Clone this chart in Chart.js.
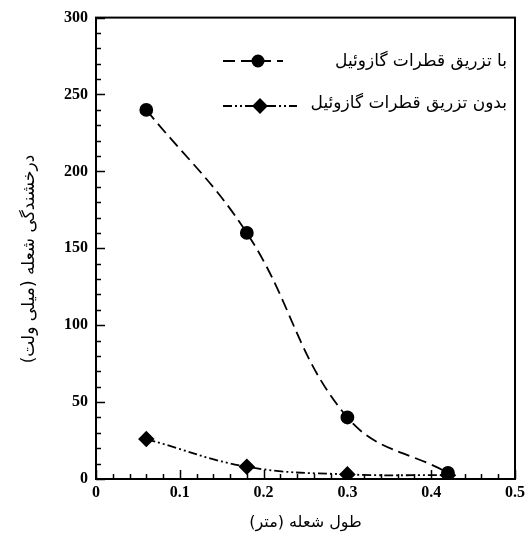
<!DOCTYPE html>
<html>
<head>
<meta charset="utf-8">
<script src="https://cdn.jsdelivr.net/npm/chart.js@4"></script>
<style>
  html, body { margin: 0; padding: 0; background: #fff; }
  #wrap { width: 530px; height: 541px; }
</style>
</head>
<body>
<div id="wrap"><canvas id="c"></canvas></div>
<script>
// Flame length (m) and flame luminosity (mV)
const flameLength = [0.06, 0.18, 0.30, 0.42];
const withInjection = [240, 160, 40, 4];
const withoutInjection = [26, 8, 3, 2.5];
const seriesLabels = ['با تزریق قطرات گازوئیل', 'بدون تزریق قطرات گازوئیل'];
const xTitle = 'طول شعله (متر)';
const yTitle = 'درخشندگی شعله (میلی ولت)';
const xTicks = [0, 0.1, 0.2, 0.3, 0.4, 0.5];
const yTicks = [0, 50, 100, 150, 200, 250, 300];

const tickFont = { family: "'Liberation Serif', 'Times New Roman', serif", size: 16, weight: 'bold' };
const arabicFont = "'DejaVu Sans', sans-serif";

const toPoints = ys => flameLength.map((x, i) => ({ x: x, y: ys[i] }));

// Box frame, inward ticks, in-plot legend and axis titles
const framePlugin = {
  id: 'frame',
  afterDraw(chart) {
    const { ctx, chartArea: a, scales: { x, y } } = chart;
    ctx.save();
    ctx.strokeStyle = '#000';
    // minor/major ticks on the left axis
    ctx.lineWidth = 1.5;
    for (let v = 0; v <= 300; v += 10) {
      const py = Math.round(y.getPixelForValue(v)) + 0.5;
      const len = v % 50 === 0 ? 9 : 5;
      ctx.beginPath(); ctx.moveTo(a.left, py); ctx.lineTo(a.left + len, py); ctx.stroke();
    }
    // minor/major ticks on the bottom axis
    for (let k = 0; k <= 25; k++) {
      const v = k * 0.02;
      const px = Math.round(x.getPixelForValue(v)) + 0.5;
      const len = k % 5 === 0 ? 9 : 5;
      ctx.beginPath(); ctx.moveTo(px, a.bottom); ctx.lineTo(px, a.bottom - len); ctx.stroke();
    }
    // frame
    ctx.lineWidth = 2;
    ctx.strokeRect(a.left, a.top, a.right - a.left, a.bottom - a.top);

    // legend inside the plot
    const rows = [
      { ds: 0, y: 61, ty: 62, x0: 223, x1: 283, px: 258 },
      { ds: 1, y: 106, ty: 104, x0: 223, x1: 297, px: 260 }
    ];
    rows.forEach(r => {
      const ds = chart.data.datasets[r.ds];
      ctx.save();
      ctx.lineWidth = ds.borderWidth;
      ctx.setLineDash(ds.borderDash);
      ctx.beginPath(); ctx.moveTo(r.x0, r.y); ctx.lineTo(r.x1, r.y); ctx.stroke();
      ctx.restore();
      ctx.fillStyle = '#000';
      Chart.helpers.drawPoint(ctx, {
        pointStyle: ds.pointStyle, radius: ds.pointRadius - 0.5, borderWidth: 1, rotation: 0
      }, r.px, r.y);
      ctx.fillStyle = '#000';
      ctx.font = '17px ' + arabicFont;
      ctx.direction = 'rtl';
      ctx.textAlign = 'right';
      ctx.textBaseline = 'middle';
      ctx.fillText(seriesLabels[r.ds], 507, r.ty);
    });

    // axis titles
    ctx.fillStyle = '#000';
    ctx.direction = 'rtl';
    ctx.textAlign = 'center';
    ctx.textBaseline = 'middle';
    ctx.font = '16px ' + arabicFont;
    ctx.fillText(xTitle, (a.left + a.right) / 2, 523);
    ctx.save();
    ctx.translate(30, 259);
    ctx.rotate(-Math.PI / 2);
    ctx.font = '17px ' + arabicFont;
    ctx.fillText(yTitle, 0, 0);
    ctx.restore();
    ctx.restore();
  }
};

new Chart(document.getElementById('c'), {
  type: 'line',
  data: {
    datasets: [
      {
        label: seriesLabels[0],
        data: toPoints(withInjection),
        borderColor: '#000',
        backgroundColor: '#000',
        borderWidth: 1.8,
        borderDash: [12, 6],
        pointStyle: 'circle',
        pointRadius: 6,
        pointBackgroundColor: '#000',
        pointBorderColor: '#000',
        tension: 0.4,
        fill: false
      },
      {
        label: seriesLabels[1],
        data: toPoints(withoutInjection),
        borderColor: '#000',
        backgroundColor: '#000',
        borderWidth: 1.8,
        borderDash: [9, 3, 2, 3, 2, 3],
        pointStyle: 'rectRot',
        pointRadius: 7,
        pointBackgroundColor: '#000',
        pointBorderColor: '#000',
        tension: 0.4,
        fill: false
      }
    ]
  },
  options: {
    responsive: true,
    maintainAspectRatio: false,
    animation: false,
    devicePixelRatio: 1,
    layout: { padding: { left: 0, right: 15, top: 17, bottom: 0 } },
    plugins: { legend: { display: false }, tooltip: { enabled: false } },
    scales: {
      x: {
        type: 'linear',
        min: 0, max: 0.5,
        afterBuildTicks: s => { s.ticks = xTicks.map(v => ({ value: v })); },
        afterFit: s => { s.height = 62; },
        grid: { display: false, drawTicks: false },
        border: { display: false },
        ticks: {
          padding: 4,
          color: '#000',
          font: tickFont,
          maxRotation: 0,
          autoSkip: false,
          callback: v => String(v)
        }
      },
      y: {
        type: 'linear',
        min: 0, max: 300,
        afterBuildTicks: s => { s.ticks = yTicks.map(v => ({ value: v })); },
        afterFit: s => { s.width = 96; },
        grid: { display: false, drawTicks: false },
        border: { display: false },
        ticks: {
          padding: 8,
          color: '#000',
          font: tickFont,
          autoSkip: false,
          callback: v => String(v)
        }
      }
    }
  },
  plugins: [framePlugin]
});
</script>
</body>
</html>
